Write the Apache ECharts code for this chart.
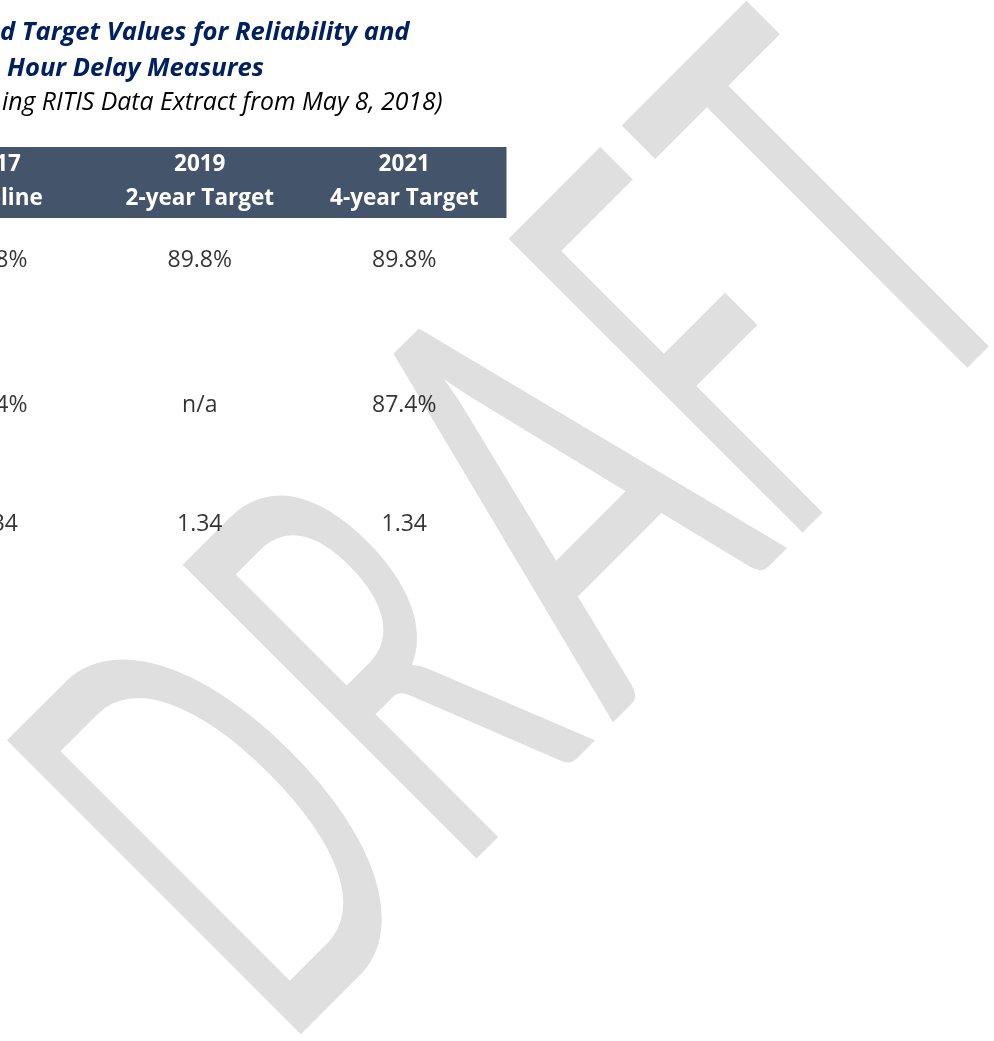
<!DOCTYPE html>
<html>
<head>
<meta charset="utf-8">
<title>Baseline and Target Values</title>
<style>
  html, body { margin: 0; padding: 0; background: #fff; }
  #chart { width: 994px; height: 1041px; }
</style>
<script src="https://cdn.jsdelivr.net/npm/echarts@6/dist/echarts.min.js"></script>
</head>
<body>
<div id="chart"></div>
<script>
// table columns
var years = ['2017', '2019', '2021']
var periods = ['Baseline', '2-year Target', '4-year Target']
// table rows (row labels sit off the visible area)
var rows = ['row1', 'row2', 'row3']
var baseline = ['89.8%', '87.4%', '1.34']
var target2yr = ['89.8%', 'n/a', '1.34']
var target4yr = ['89.8%', '87.4%', '1.34']
var columns = [baseline, target2yr, target4yr]
// watermark letters
var watermark = ['D', 'R', 'A', 'F', 'T']

// layout
var tableLeft = -107
var tableWidth = 613.5
var rowTops = [218, 303, 507]
var rowHeights = [85, 204, 34]
var letterU = [-429, -200, 46, 247, 439]
var letterScale = [0.535, 0.545, 0.633, 0.506, 0.542]

var font = 'Open Sans'

var grids = [{
  left: tableLeft, top: 147, width: tableWidth, height: 71,
  show: true, backgroundColor: '#44546a', borderWidth: 0,
  outerBoundsMode: 'none'
}]
var xAxes = [{
  type: 'category',
  gridIndex: 0,
  data: years,
  position: 'bottom',
  axisLine: { show: false },
  axisTick: { show: false },
  axisLabel: {
    inside: true,
    margin: 2,
    interval: 0,
    hideOverlap: false,
    formatter: function(v, i) {
      return '{y|' + v + '}\n{p|' + periods[i] + '}'
    },
    rich: {
      y: { color: '#fff', fontFamily: font, fontWeight: 'bold', fontSize: 22.5, lineHeight: 34.5 },
      p: { color: '#fff', fontFamily: font, fontWeight: 'bold', fontSize: 22.5, lineHeight: 34.5 }
    }
  }
}]
var yAxes = [{ type: 'category', gridIndex: 0, data: [''], show: false }]
var series = []

rows.forEach(function(r, i) {
  grids.push({
    left: tableLeft, top: rowTops[i], width: tableWidth, height: rowHeights[i],
    outerBoundsMode: 'none'
  })
  xAxes.push({ type: 'category', gridIndex: i + 1, data: years, show: false })
  yAxes.push({ type: 'category', gridIndex: i + 1, data: [r], show: false })
  series.push({
    type: 'scatter',
    xAxisIndex: i + 1,
    yAxisIndex: i + 1,
    symbolSize: 1,
    itemStyle: { color: 'rgba(0,0,0,0)' },
    silent: true,
    data: years.map(function(y, j) { return [y, r, columns[j][i]] }),
    label: {
      show: true,
      position: 'inside',
      formatter: function(p) { return p.value[2] },
      color: '#000',
      fontFamily: font,
      fontSize: 23
    },
    z: 5
  })
})

var titleStyle = { fontFamily: font, fontStyle: 'italic', fontWeight: 'bold', fontSize: 25.6, color: '#002060' }

var option = {
  backgroundColor: '#fff',
  animation: false,
  title: [
    { text: 'd Target Values for Reliability and', left: 0, top: 19.3, padding: 0, textStyle: titleStyle },
    { text: 'Hour Delay Measures', left: 7, top: 55.3, padding: 0, textStyle: titleStyle },
    {
      text: 'ing RITIS Data Extract from May 8, 2018)', left: 2, top: 90.2, padding: 0,
      textStyle: { fontFamily: font, fontStyle: 'italic', fontWeight: 'normal', fontSize: 24.8, color: '#000' }
    }
  ],
  grid: grids,
  xAxis: xAxes,
  yAxis: yAxes,
  series: series,
  // DRAFT watermark, rotated 45 degrees behind the table
  graphic: [{
    type: 'group',
    x: 0,
    y: 0,
    rotation: Math.PI / 4,
    silent: true,
    z: -10,
    children: watermark.map(function(ch, k) {
      return {
        type: 'text',
        x: letterU[k],
        y: 757,
        scaleX: letterScale[k],
        z: -10,
        style: {
          text: ch,
          fontFamily: 'Lato',
          fontWeight: 'normal',
          fontSize: 580,
          fill: '#dfdfdf',
          textAlign: 'center',
          textVerticalAlign: 'middle'
        }
      }
    })
  }]
}

var chart = echarts.init(document.getElementById('chart'))
chart.setOption(option)
</script>
</body>
</html>
